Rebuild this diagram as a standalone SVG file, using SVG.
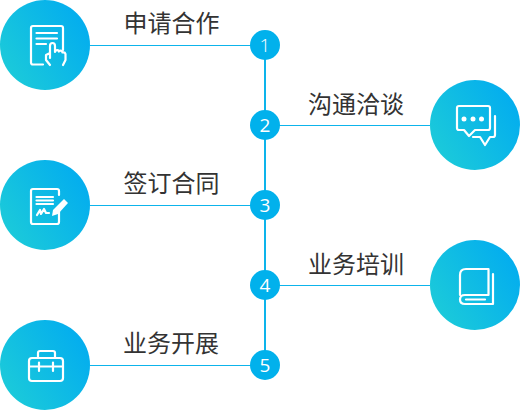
<svg xmlns="http://www.w3.org/2000/svg" width="520" height="410" viewBox="0 0 520 410">
<defs>
<linearGradient id="g" x1="0.05" y1="0.85" x2="0.95" y2="0.3"><stop offset="0" stop-color="#1ccbd9"/><stop offset="1" stop-color="#04aeee"/></linearGradient>
</defs>
<style>
.big{fill:url(#g)}
.ln{stroke:#0db4eb;stroke-width:1;fill:none}
.sp{stroke:#0db4eb;stroke-width:2;fill:none}
.dot{fill:#01b1ec}
.num{font-family:"Open Sans","DejaVu Sans",sans-serif;font-size:19px;fill:#fff;text-anchor:middle}
.lab{font-family:"Noto Sans CJK SC",sans-serif;font-size:24px;fill:#333;text-anchor:middle}
.ic{fill:none;stroke:#fff;stroke-width:2.200;stroke-linecap:round;stroke-linejoin:round}
.icf{fill:#fff}
</style>
<g id="connectors">
<path class="sp" d="M265 45V365"/>
<path class="ln" d="M90 45.500H265M265 125.500H430M90 205.500H265M265 285.500H430M90 365.500H265"/>
</g>
<g id="step1"><circle class="big" cx="45" cy="45" r="45"/>
<path class="ic" d="M43 64.500H33Q31 64.500 31 62.500V28Q31 26 33 26H61Q63 26 63 28V50"/>
<path class="ic" d="M36.500 33H57M36.500 38.500H57M36.500 44H46"/>
<path class="ic" d="M50 58V46Q50 43 52.500 43Q55 43 55 46V52M55 51Q58 49 59 51.500M59 51Q62 50 62.500 52.500Q65 52 65.500 54V60L63 65M50 53L46 55V60L50 65"/>
<text class="lab" x="171.500" y="32">申请合作</text></g>
<g id="step2"><circle class="big" cx="475" cy="125" r="45"/>
<path class="ic" d="M459 106H488Q490 106 490 108V128Q490 130 488 130H475L469 136L464 130H459Q457 130 457 128V108Q457 106 459 106Z"/>
<circle class="icf" cx="464" cy="119" r="2.500"/><circle class="icf" cx="473" cy="119" r="2.500"/><circle class="icf" cx="481.500" cy="119" r="2.500"/>
<path class="ic" d="M495 116V135Q495 137 493 137H490L485 145L480 137H473"/>
<text class="lab" x="356" y="113">沟通洽谈</text></g>
<g id="step3"><circle class="big" cx="45" cy="205" r="45"/>
<path class="ic" d="M59 208V222Q59 224 57 224H33Q31 224 31 222V191Q31 189 33 189H57Q59 189 59 191V195"/>
<path class="ic" d="M36.500 197H53M36.500 200.500H53M36.500 204H53" stroke-width="1.500"/>
<path class="ic" d="M37 215L40 210L41 214L44 209L46 213L49 213" stroke-width="1.600"/>
<path class="icf" d="M64 199L68 203L58 214L52 216L53 210Z"/>
<text class="lab" x="171.500" y="192">签订合同</text></g>
<g id="step4"><circle class="big" cx="475" cy="285" r="45"/>
<path class="ic" d="M460 295V275Q460 269 466 269H488.500V295H465Q460 295 460 299.500Q460 304 465 304H493V274"/>
<path class="ic" d="M466 299.500H485"/>
<text class="lab" x="356" y="273">业务培训</text></g>
<g id="step5"><circle class="big" cx="45" cy="365" r="45"/>
<path class="ic" d="M32 358H60Q63 358 63 361V378Q63 381 60 381H32Q29 381 29 378V361Q29 358 32 358Z"/>
<path class="ic" d="M38 357V353Q38 351 40 351H53Q55 351 55 353V357"/>
<path class="ic" d="M29 366.500H63M39 362.500V371M53 362.500V371"/>
<text class="lab" x="171" y="352">业务开展</text></g>
<g id="n1"><circle class="dot" cx="265" cy="45" r="15"/><text class="num" x="265" y="52" font-weight="300">1</text></g>
<g id="n2"><circle class="dot" cx="265" cy="125" r="15"/><text class="num" x="265" y="132">2</text></g>
<g id="n3"><circle class="dot" cx="265" cy="205" r="15"/><text class="num" x="265" y="212">3</text></g>
<g id="n4"><circle class="dot" cx="265" cy="285" r="15"/><text class="num" x="265" y="292">4</text></g>
<g id="n5"><circle class="dot" cx="265" cy="365" r="15"/><text class="num" x="265" y="372">5</text></g>
</svg>
